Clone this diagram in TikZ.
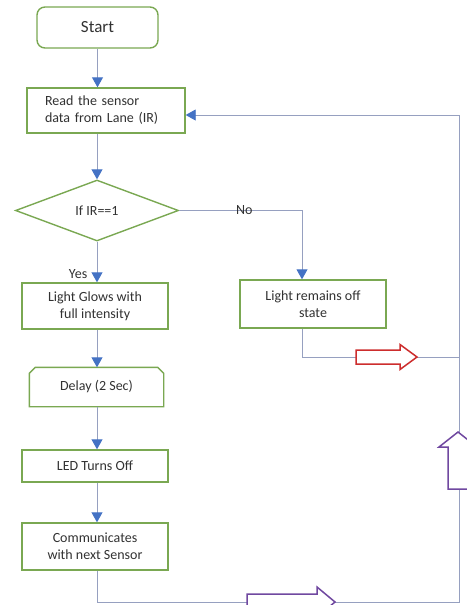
\documentclass[tikz,border=0pt]{standalone}
\usepackage{fontspec}
\setmainfont{Carlito}
\usetikzlibrary{arrows.meta,positioning,shapes.geometric}

\definecolor{boxgreen}{RGB}{122,168,82}
\definecolor{tipblue}{RGB}{68,114,196}
\definecolor{linkgray}{RGB}{150,160,192}
\definecolor{txtgray}{RGB}{50,50,50}
\definecolor{offred}{RGB}{205,45,45}
\definecolor{loopviolet}{RGB}{112,72,160}

\begin{document}
\begin{tikzpicture}[x=1pt, y=-1pt,
  every node/.style={font=\fontsize{14}{17}\selectfont, text=txtgray},
  proc/.style={draw=boxgreen, line width=1.4pt, fill=white, minimum width=146pt, align=center, inner sep=2pt},
  term/.style={proc, rounded corners=8pt, minimum width=121pt, minimum height=41pt, font=\fontsize{17}{20}\selectfont},
  test/.style={diamond, draw=boxgreen, line width=1.4pt, aspect=2.67, minimum width=163pt, minimum height=61pt, inner sep=0pt},
  link/.style={draw=linkgray, line width=0.9pt},
  flow/.style={link, -{Triangle[length=10pt, width=11pt, color=tipblue]}},
  bigarrow/.style={fill=white, line width=1.5pt, line join=miter}]
  \useasboundingbox (0,0) rectangle (466,605);
  % main column
  \node[term] (start) at (97.5,27.5) {Start};
  \node[proc, minimum width=158pt, minimum height=45pt, text width=122pt, inner xsep=18pt, align=left] (read) at (106,110.5) {Read the sensor\\data from Lane (IR)};
  \node[test] (test) at (97,210.5) {If IR==1};
  \node[proc, minimum height=46pt] (glow) at (95,306) {Light Glows with\\full intensity};
  \node[proc, minimum height=48pt] (dark) at (313,304) {Light remains off\\state};
  \node[proc, draw=none, minimum width=133pt, minimum height=38pt] (wait) at (96.5,387) {Delay (2 Sec)};
  \draw[boxgreen, line width=1.4pt] (wait.south west) -- ([yshift=-6pt]wait.north west) -- ([xshift=6pt]wait.north west)
     -- ([xshift=-6pt]wait.north east) -- ([yshift=-6pt]wait.north east) -- (wait.south east) -- cycle;
  \node[proc, minimum height=32pt] (ledoff) at (95,466) {LED Turns Off};
  \node[proc, minimum height=47pt] (comm) at (95,546.5) {Communicates\\with next Sensor};
  % arrows down the column
  \draw[flow] (start.south) -- (start.south |- read.north);
  \draw[flow] (test.north |- read.south) -- (test.north);
  \draw[flow] (test.south) -- (test.south |- glow.north) node[pos=0.8, left=6pt] (yes) {Yes};
  \draw[flow] (test.south |- glow.south) -- (test.south |- wait.north);
  \draw[flow] (test.south |- wait.south) -- (test.south |- ledoff.north);
  \draw[flow] (test.south |- ledoff.south) -- (test.south |- comm.north);
  % no branch
  \coordinate (nobend) at (302,210.5);
  \coordinate (offbend) at (302,357);
  \coordinate (botright) at (459,602);
  \coordinate (topright) at (459,115);
  \draw[flow] (test.east) -- (nobend) node[pos=0.53] (no) {No} -- (nobend |- dark.north);
  \draw[link] (offbend |- dark.south) -- (offbend) -- (offbend -| botright);
  % loop back
  \draw[flow] (test.south |- comm.south) -- (test.south |- botright) -- (botright) -- (topright) -- (read.east |- topright);
  % block arrows
  \draw[bigarrow, draw=offred] (356,350) -- (400,350) -- (400,344.5) -- (417,357) -- (400,369.5) -- (400,364) -- (356,364) -- cycle;
  \draw[bigarrow, draw=loopviolet] (247,594) -- (317,594) -- (317,587) -- (335,602) -- (317,617) -- (317,610) -- (247,610) -- cycle;
  \draw[bigarrow, draw=loopviolet] (448,489) -- (448,447) -- (439,447) -- (458,432) -- (477,447) -- (468,447) -- (468,489) -- cycle;
\end{tikzpicture}
\end{document}
